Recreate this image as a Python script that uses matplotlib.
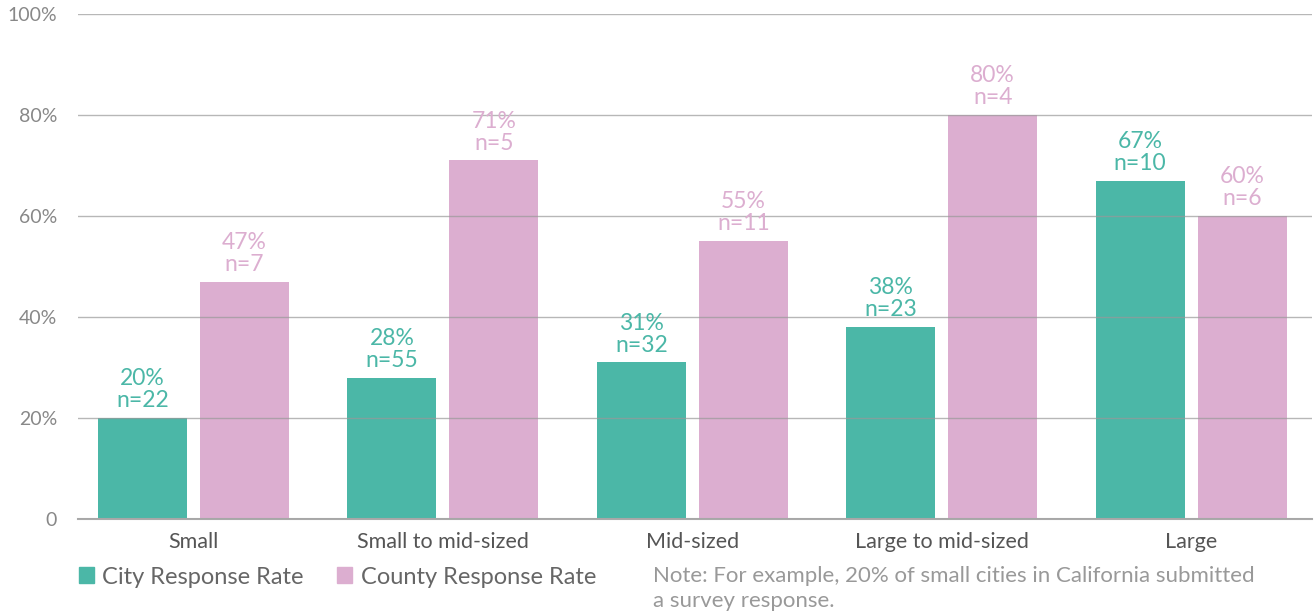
import numpy as np
import matplotlib
matplotlib.use("Agg")
from matplotlib import pyplot as plt
from matplotlib.patches import Patch

categories = ["Small", "Small to mid-sized", "Mid-sized", "Large to mid-sized", "Large"]
city_rate = [20, 28, 31, 38, 67]
city_n = [22, 55, 32, 23, 10]
county_rate = [47, 71, 55, 80, 60]
county_n = [7, 5, 11, 4, 6]
yticks = [0, 20, 40, 60, 80, 100]
ytick_labels = ["0", "20%", "40%", "60%", "80%", "100%"]

teal = "#4bb7a7"
pink = "#dcaed0"

plt.rcParams["font.family"] = ["Lato", "DejaVu Sans"]

fig = plt.figure(figsize=(13.14, 6.15), dpi=100)
ax = fig.add_axes([78 / 1314, 1 - 519 / 615, 1234 / 1314, 505 / 615])

x = np.arange(len(categories))
w = 0.357
off = 0.2045
b1 = ax.bar(x - off, city_rate, w, color=teal, zorder=2)
b2 = ax.bar(x + off, county_rate, w, color=pink, zorder=2)

for bars, rates, ns, col in [(b1, city_rate, city_n, teal), (b2, county_rate, county_n, pink)]:
    for bar, r, n in zip(bars, rates, ns):
        ax.annotate("%d%%\nn=%d" % (r, n),
                    (bar.get_x() + bar.get_width() / 2, r),
                    xytext=(0, 5), textcoords="offset points",
                    ha="center", va="bottom", color=col, fontsize=16.5,
                    linespacing=1.05)

ax.set_xlim(-0.463, 4.485)
ax.set_ylim(0, 100)
ax.set_yticks(yticks)
ax.set_yticklabels(ytick_labels)
ax.set_xticks(x)
ax.set_xticklabels(categories)
ax.tick_params(axis="y", length=0, labelsize=14, labelcolor="#888888", pad=15)
ax.tick_params(axis="x", length=0, labelsize=15.5, labelcolor="#555555", pad=9)

ax.yaxis.grid(True, color="#999999", linewidth=1, alpha=0.7, zorder=3)
ax.set_axisbelow(False)
for s in ["top", "right", "left"]:
    ax.spines[s].set_visible(False)
ax.spines["bottom"].set_color("#aaaaaa")
ax.spines["bottom"].set_linewidth(1.5)

handles = [Patch(color=teal, label="City Response Rate"),
           Patch(color=pink, label="County Response Rate")]
fig.legend(handles=handles, loc="center left", bbox_to_anchor=(0.06, 1 - 577 / 615),
           ncol=2, frameon=False, fontsize=17, labelcolor="#666666",
           handlelength=0.65, handleheight=0.65, handletextpad=0.35, columnspacing=1.4,
           borderaxespad=0, borderpad=0)

fig.text(653 / 1314, 1 - 566 / 615, "Note: For example, 20% of small cities in California submitted\na survey response.",
         ha="left", va="top", fontsize=16, color="#999999", linespacing=1.3)

fig.savefig("out.png", dpi=100)
